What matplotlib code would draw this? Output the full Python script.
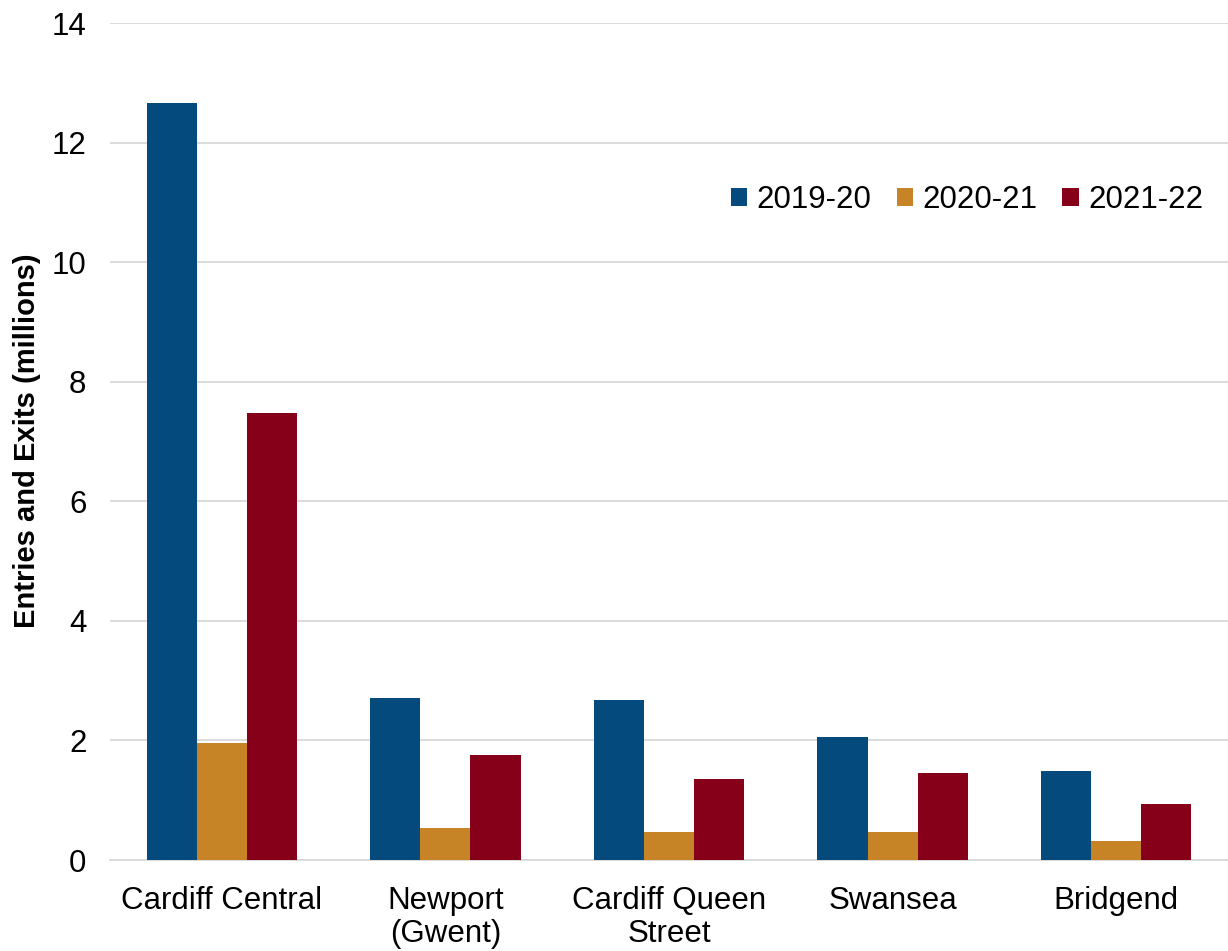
import matplotlib
matplotlib.use("Agg")
import matplotlib.pyplot as plt
import numpy as np

categories = ["Cardiff Central", "Newport\n(Gwent)", "Cardiff Queen\nStreet", "Swansea", "Bridgend"]
series_names = ["2019-20", "2020-21", "2021-22"]
v2019 = [12.66, 2.71, 2.68, 2.05, 1.49]
v2020 = [1.96, 0.535, 0.47, 0.47, 0.31]
v2021 = [7.47, 1.75, 1.36, 1.45, 0.93]
colors = ["#044A7C", "#C68427", "#870019"]
yticks = [0, 2, 4, 6, 8, 10, 12, 14]

plt.rcParams['font.family'] = ['Liberation Sans', 'DejaVu Sans']

fig = plt.figure(figsize=(12.28, 9.51), dpi=100)
ax = fig.add_axes([110/1228, 1-860/951, 1-110/1228, (860-23)/951])

x = np.arange(len(categories))
w = 0.224
for i, (vals, name, c) in enumerate(zip([v2019, v2020, v2021], series_names, colors)):
    ax.bar(x + (i-1)*w, vals, width=w, color=c, label=name, zorder=3)

ax.set_xlim(-0.5, len(categories)-0.5)
ax.set_ylim(0, 14)
ax.set_yticks(yticks)
ax.set_yticklabels([str(t) for t in yticks], fontsize=22.5)
ax.set_xticks(x)
ax.set_xticklabels(categories, fontsize=22.5, linespacing=1.1)
ax.tick_params(axis='x', length=0, pad=19)
ax.tick_params(axis='y', length=0, pad=17)
ax.yaxis.grid(True, color="#d9d9d9", linewidth=1.3, zorder=0)
ax.set_axisbelow(True)
for s in ["top", "right", "left"]:
    ax.spines[s].set_visible(False)
ax.spines["bottom"].set_color("#d9d9d9")
ax.spines["bottom"].set_linewidth(1.3)

ax.set_ylabel("Entries and Exits (millions)", fontsize=21, fontweight="bold")
ax.yaxis.set_label_coords(-(110-41)/1118, (860-441)/837)

leg = ax.legend(loc="center right", bbox_to_anchor=(1.0, (860-200)/837), ncol=3, frameon=False,
                fontsize=22.5, handlelength=0.52, handleheight=0.52, handletextpad=0.3,
                columnspacing=0.8, borderaxespad=0.4)

fig.savefig("out.png", dpi=100, facecolor="white")
